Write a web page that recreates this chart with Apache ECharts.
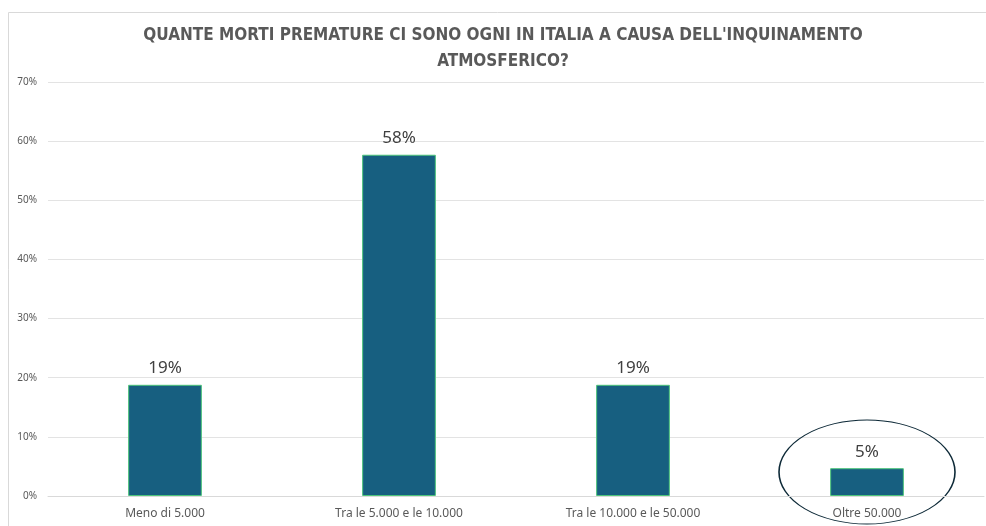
<!DOCTYPE html>
<html>
<head>
<meta charset="utf-8">
<script src="https://cdn.jsdelivr.net/npm/echarts@6/dist/echarts.min.js"></script>
<style>
  html, body { margin: 0; padding: 0; background: #fff; }
  #chart { width: 986px; height: 526px; }
</style>
</head>
<body>
<div id="chart"></div>
<script>
// dati
var categorie = ['Meno di 5.000', 'Tra le 5.000 e le 10.000', 'Tra le 10.000 e le 50.000', 'Oltre 50.000'];
var percentuali = [18.8, 57.7, 18.8, 4.7];
var titolo = "QUANTE MORTI PREMATURE CI SONO OGNI IN ITALIA A CAUSA DELL'INQUINAMENTO\nATMOSFERICO?";

var myChart = echarts.init(document.getElementById('chart'));

var option = {
    animation: false,
    title: {
        text: titolo,
        left: 498,
        top: 18,
        textAlign: 'center',
        textStyle: {
            fontFamily: 'DejaVu Sans Condensed',
            fontWeight: 'bold',
            fontSize: 17,
            color: '#595959',
            lineHeight: 26
        }
    },
    grid: {
        left: 48,
        right: 2,
        top: 82,
        bottom: 30
    },
    xAxis: {
        type: 'category',
        data: categorie,
        axisLine: { lineStyle: { color: '#d9d9d9' } },
        axisTick: { show: false },
        axisLabel: {
            margin: 12,
            fontSize: 12,
            fontFamily: 'Noto Sans',
            color: '#595959'
        }
    },
    yAxis: {
        type: 'value',
        min: 0,
        max: 70,
        interval: 10,
        axisLine: { show: false },
        axisTick: { show: false },
        splitLine: { lineStyle: { color: '#e3e3e3' } },
        axisLabel: {
            formatter: '{value}%',
            margin: 11,
            fontSize: 10,
            fontFamily: 'Noto Sans',
            color: '#595959'
        }
    },
    series: [{
        type: 'bar',
        data: percentuali,
        barWidth: '31.5%',
        itemStyle: {
            color: '#175f80',
            borderColor: '#4cc47a',
            borderWidth: 1
        },
        label: {
            show: true,
            position: 'top',
            distance: 8,
            formatter: function (p) { return Math.round(p.value) + '%'; },
            fontSize: 17,
            fontFamily: 'Noto Sans',
            color: '#404040'
        }
    }]
};
myChart.setOption(option);

// cornice ed ellisse attorno all'ultima barra
var p = myChart.convertToPixel({ seriesIndex: 0 }, [categorie.length - 1, 0]);
var rx = 88, ry = 52;
myChart.setOption({
    graphic: [{
        type: 'rect',
        silent: true,
        z: -1,
        shape: { x: 8.5, y: 12.5, width: 1000, height: 600 },
        style: { fill: null, stroke: '#d9d9d9', lineWidth: 1 }
    }, {
        type: 'circle',
        silent: true,
        x: p[0],
        y: p[1] - 24,
        scaleY: ry / rx,
        shape: { cx: 0, cy: 0, r: rx },
        style: { fill: null, stroke: '#0e2a38', lineWidth: 1.6, strokeNoScale: true }
    }]
});
</script>
</body>
</html>
